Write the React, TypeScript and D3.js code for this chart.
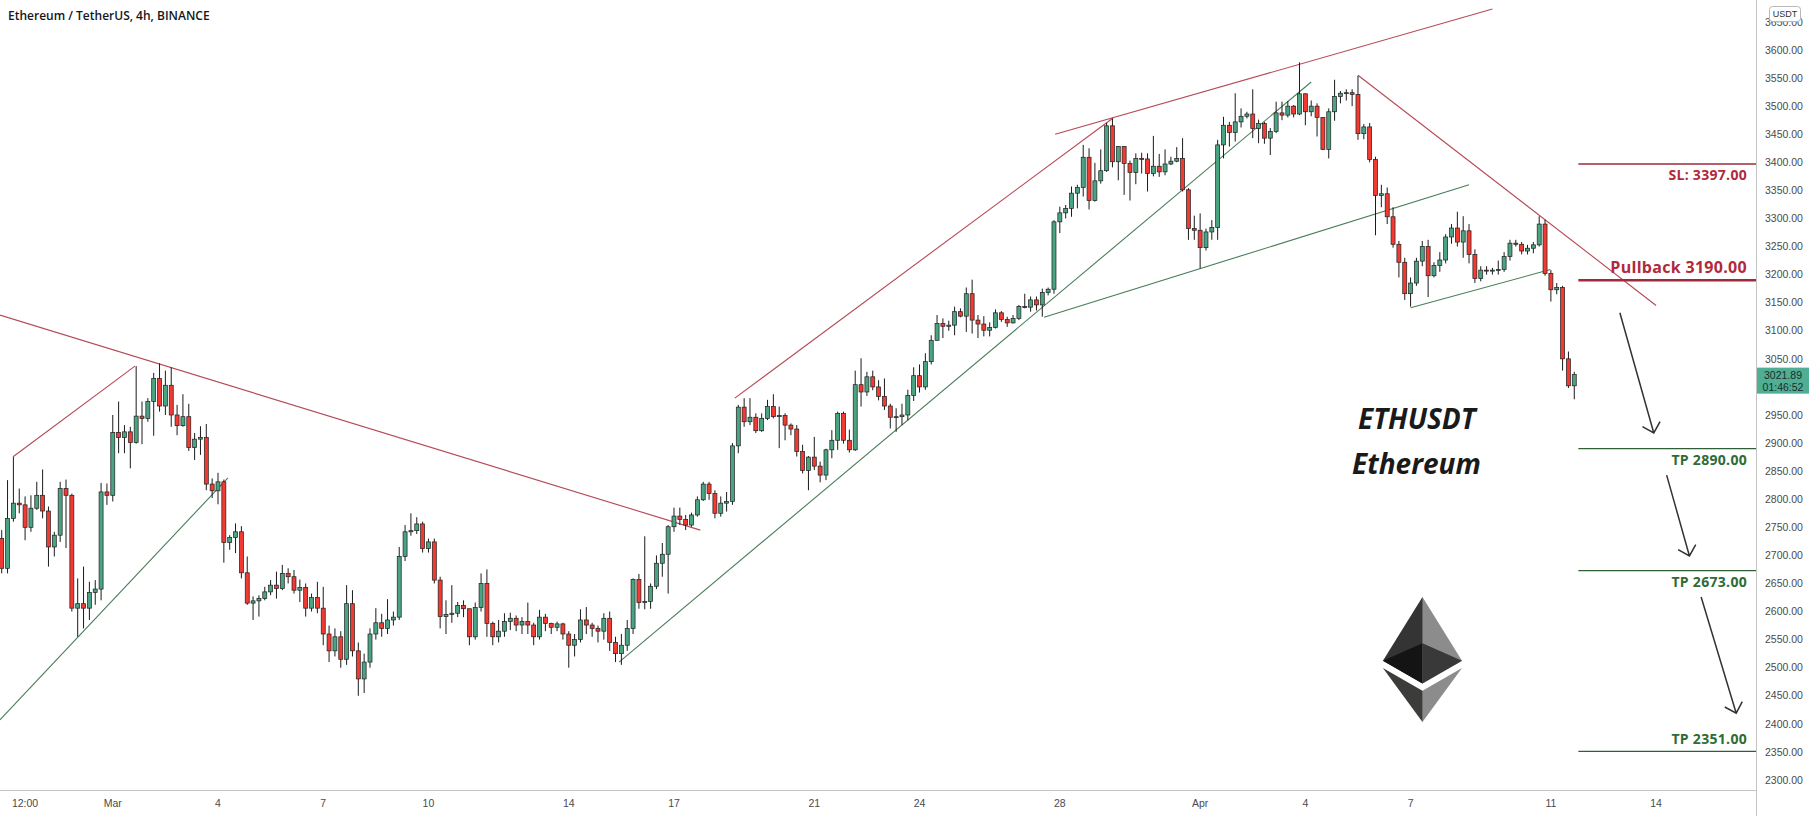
// ETHUSDT 4h candlestick chart with trend lines and trade levels, drawn with D3

import React, { useEffect, useRef } from 'react'
import * as d3 from 'd3'

const W = 1814
const H = 816
const PLOT_RIGHT = 1756
const PLOT_BOTTOM = 790

// first visible candle: 2022-02-25 20:00 UTC, 4h candles
const START = Date.UTC(2022, 1, 25, 20)
const STEP = 4 * 3600 * 1000

const firstOpen = 2730

const closes = [
  2677, 2766, 2793, 2790, 2750, 2784, 2807, 2779, 2715, 2736, 2819, 2807, 2606, 2614, 2606, 2634, 2640, 2813, 2807, 2919,
  2910, 2920, 2901, 2948, 2944, 2974, 3015, 2966, 3003, 2950, 2931, 2947, 2892, 2907, 2910, 2827, 2815, 2831, 2723, 2732,
  2742, 2669, 2615, 2619, 2623, 2635, 2647, 2641, 2668, 2662, 2638, 2643, 2606, 2625, 2606, 2560, 2530, 2555, 2515, 2614,
  2530, 2480, 2510, 2560, 2580, 2570, 2585, 2590, 2698, 2742, 2744, 2756, 2712, 2724, 2656, 2591, 2595, 2597, 2611, 2605,
  2555, 2607, 2650, 2579, 2555, 2565, 2582, 2588, 2576, 2582, 2576, 2555, 2590, 2579, 2572, 2578, 2560, 2540, 2550, 2585,
  2576, 2570, 2565, 2588, 2545, 2525, 2540, 2570, 2657, 2616, 2618, 2645, 2686, 2702, 2751, 2770, 2764, 2754, 2772, 2799,
  2827, 2810, 2775, 2793, 2796, 2895, 2964, 2938, 2946, 2922, 2944, 2965, 2947, 2949, 2932, 2925, 2885, 2851, 2875, 2859,
  2843, 2888, 2905, 2953, 2905, 2888, 3004, 2991, 3018, 3000, 2983, 2966, 2946, 2947, 2950, 2985, 3020, 3000, 3045, 3083,
  3113, 3108, 3110, 3134, 3126, 3166, 3119, 3112, 3101, 3106, 3132, 3120, 3114, 3122, 3143, 3142, 3155, 3146, 3168, 3174,
  3294, 3310, 3318, 3345, 3355, 3409, 3332, 3367, 3385, 3465, 3401, 3428, 3398, 3382, 3407, 3406, 3380, 3393, 3383, 3397,
  3402, 3407, 3351, 3282, 3279, 3248, 3276, 3284, 3431, 3466, 3453, 3472, 3482, 3486, 3460, 3469, 3443, 3455, 3488, 3484,
  3500, 3486, 3522, 3490, 3500, 3480, 3423, 3490, 3517, 3523, 3524, 3521, 3451, 3463, 3405, 3341, 3344, 3303, 3254, 3222,
  3166, 3185, 3224, 3250, 3198, 3216, 3226, 3267, 3283, 3258, 3278, 3236, 3193, 3208, 3207, 3208, 3209, 3232, 3256, 3254,
  3242, 3247, 3253, 3290, 3202, 3173, 3177, 3050, 3002, 3022,
]

const highs = [
  2745, 2834, 2876, 2819, 2805, 2807, 2831, 2853, 2787, 2742, 2831, 2835, 2810, 2659, 2680, 2653, 2656, 2829, 2828, 2950,
  2974, 2932, 2929, 3037, 2974, 2980, 3025, 3042, 3029, 3035, 2968, 2987, 2970, 2918, 2930, 2934, 2837, 2847, 2835, 2736,
  2757, 2752, 2698, 2627, 2629, 2644, 2656, 2671, 2683, 2677, 2674, 2657, 2650, 2632, 2653, 2644, 2575, 2570, 2565, 2647,
  2638, 2545, 2525, 2570, 2606, 2596, 2622, 2600, 2715, 2754, 2775, 2768, 2760, 2730, 2730, 2662, 2620, 2647, 2617, 2620,
  2605, 2616, 2668, 2675, 2582, 2585, 2597, 2598, 2593, 2590, 2616, 2580, 2603, 2596, 2580, 2582, 2580, 2565, 2560, 2604,
  2608, 2580, 2575, 2597, 2600, 2555, 2560, 2585, 2659, 2667, 2734, 2650, 2700, 2722, 2754, 2785, 2785, 2772, 2776, 2805,
  2831, 2831, 2816, 2805, 2813, 2900, 2968, 2980, 2980, 2953, 2953, 2977, 2987, 2965, 2953, 2935, 2932, 2897, 2877, 2911,
  2867, 2890, 2923, 2956, 2956, 2924, 3029, 3051, 3027, 3029, 3012, 3015, 2970, 2962, 2970, 2995, 3035, 3040, 3060, 3092,
  3128, 3122, 3118, 3143, 3140, 3177, 3191, 3128, 3126, 3115, 3138, 3135, 3125, 3128, 3146, 3166, 3161, 3161, 3175, 3177,
  3297, 3321, 3324, 3357, 3360, 3431, 3425, 3399, 3423, 3470, 3478, 3429, 3429, 3403, 3416, 3417, 3416, 3447, 3415, 3423,
  3410, 3427, 3443, 3354, 3305, 3309, 3282, 3297, 3440, 3481, 3472, 3523, 3496, 3490, 3530, 3476, 3472, 3461, 3508, 3508,
  3509, 3502, 3578, 3523, 3510, 3505, 3480, 3496, 3547, 3527, 3530, 3530, 3554, 3468, 3470, 3410, 3360, 3355, 3320, 3260,
  3230, 3195, 3230, 3260, 3262, 3222, 3240, 3272, 3290, 3312, 3304, 3290, 3245, 3215, 3215, 3212, 3225, 3240, 3262, 3262,
  3258, 3253, 3258, 3304, 3298, 3208, 3185, 3180, 3063, 3027,
]

const lows = [
  2668, 2668, 2760, 2775, 2727, 2742, 2781, 2766, 2680, 2698, 2724, 2713, 2600, 2555, 2570, 2585, 2612, 2620, 2790, 2796,
  2882, 2882, 2855, 2899, 2898, 2938, 2913, 2956, 2950, 2929, 2914, 2929, 2886, 2870, 2879, 2816, 2802, 2791, 2687, 2710,
  2704, 2659, 2612, 2585, 2591, 2620, 2629, 2623, 2638, 2650, 2632, 2617, 2591, 2600, 2597, 2540, 2510, 2520, 2500, 2505,
  2520, 2450, 2455, 2500, 2550, 2555, 2560, 2575, 2585, 2690, 2735, 2738, 2705, 2705, 2650, 2570, 2560, 2580, 2590, 2590,
  2540, 2550, 2600, 2555, 2540, 2545, 2555, 2567, 2565, 2560, 2560, 2540, 2550, 2565, 2560, 2565, 2550, 2500, 2520, 2545,
  2560, 2555, 2545, 2550, 2530, 2510, 2505, 2530, 2560, 2605, 2604, 2605, 2640, 2662, 2632, 2742, 2754, 2745, 2751, 2769,
  2797, 2799, 2766, 2769, 2778, 2790, 2882, 2929, 2932, 2918, 2920, 2941, 2944, 2891, 2905, 2914, 2876, 2846, 2816, 2852,
  2830, 2834, 2873, 2888, 2899, 2883, 2886, 2965, 2984, 2994, 2976, 2959, 2926, 2920, 2932, 2940, 2975, 2990, 2995, 3040,
  3083, 3087, 3100, 3092, 3124, 3098, 3095, 3087, 3090, 3090, 3104, 3116, 3107, 3113, 3119, 3140, 3134, 3136, 3125, 3163,
  3166, 3274, 3300, 3303, 3318, 3339, 3316, 3330, 3362, 3383, 3391, 3368, 3342, 3332, 3361, 3380, 3348, 3375, 3374, 3377,
  3395, 3400, 3348, 3262, 3262, 3211, 3243, 3262, 3262, 3407, 3428, 3437, 3462, 3478, 3443, 3434, 3433, 3413, 3452, 3475,
  3480, 3480, 3484, 3466, 3482, 3446, 3422, 3407, 3474, 3505, 3510, 3500, 3440, 3441, 3400, 3270, 3320, 3290, 3248, 3195,
  3155, 3143, 3180, 3215, 3160, 3195, 3205, 3220, 3255, 3250, 3230, 3220, 3185, 3188, 3200, 3200, 3200, 3205, 3225, 3250,
  3236, 3236, 3238, 3250, 3198, 3152, 3165, 3029, 2998, 2978,
]

const lastPrice = 3021.89
const countdown = '01:46:52'

const priceTicks = [
  2300, 2350, 2400, 2450, 2500, 2550, 2600, 2650, 2700, 2750, 2800, 2850, 2900, 2950, 3000, 3050, 3100, 3150, 3200, 3250,
  3300, 3350, 3400, 3450, 3500, 3550, 3600, 3650,
]

const dateTicks = [
  { t: '2022-02-26T12:00:00Z', label: '12:00' },
  { t: '2022-03-01T00:00:00Z', label: 'Mar' },
  { t: '2022-03-04T00:00:00Z', label: '4' },
  { t: '2022-03-07T00:00:00Z', label: '7' },
  { t: '2022-03-10T00:00:00Z', label: '10' },
  { t: '2022-03-14T00:00:00Z', label: '14' },
  { t: '2022-03-17T00:00:00Z', label: '17' },
  { t: '2022-03-21T00:00:00Z', label: '21' },
  { t: '2022-03-24T00:00:00Z', label: '24' },
  { t: '2022-03-28T00:00:00Z', label: '28' },
  { t: '2022-04-01T00:00:00Z', label: 'Apr' },
  { t: '2022-04-04T00:00:00Z', label: '4' },
  { t: '2022-04-07T00:00:00Z', label: '7' },
  { t: '2022-04-11T00:00:00Z', label: '11' },
  { t: '2022-04-14T00:00:00Z', label: '14' },
]

// trend lines: [candle index, price] -> [candle index, price]
const trendLines = [
  { a: [2, 2876], b: [22.8, 3037], kind: 'red' },
  { a: [-0.3, 2407], b: [38.7, 2838], kind: 'green' },
  { a: [-0.3, 3128], b: [119.5, 2745], kind: 'red' },
  { a: [105.6, 2510], b: [224, 3543], kind: 'green' },
  { a: [125.4, 2980], b: [190.1, 3479], kind: 'red' },
  { a: [180.2, 3450], b: [255, 3673], kind: 'red' },
  { a: [178.3, 3124], b: [251, 3360], kind: 'green' },
  { a: [232, 3555], b: [283, 3145], kind: 'red' },
  { a: [241, 3141], b: [264.9, 3209], kind: 'green' },
]

// projected move arrows
const arrows = [
  [276.8, 3132, 282.6, 2918],
  [284.8, 2843, 288.7, 2699],
  [290.7, 2626, 296.7, 2419],
]

const levels = [
  { price: 3397, label: 'SL: 3397.00', kind: 'stop', above: false, size: 14, width: 1.5 },
  { price: 3190, label: 'Pullback 3190.00', kind: 'stop', above: true, size: 16, width: 2.5 },
  { price: 2890, label: 'TP 2890.00', kind: 'tp', above: false, size: 14, width: 1.2 },
  { price: 2673, label: 'TP 2673.00', kind: 'tp', above: false, size: 14, width: 1.2 },
  { price: 2351, label: 'TP 2351.00', kind: 'tp', above: true, size: 14, width: 1.2 },
]
const levelStart = 269.7

const UP = '#4aa482'
const DOWN = '#f23a33'
const LINE_RED = '#b54a55'
const LINE_GREEN = '#4a7d58'

const atIndex = (k: number) => new Date(START + k * STEP)

const draw = (el: SVGSVGElement) => {
  const svg = d3.select(el)
  svg.selectAll('*').remove()

  const x = d3
    .scaleUtc()
    .domain([atIndex(0), atIndex(300)])
    .range([1.7, 1.7 + 300 * 5.846])
  const y = d3.scaleLinear().domain([3600, 2300]).range([50, 780])

  svg.append('rect').attr('width', W).attr('height', H).attr('fill', '#ffffff')

  const plot = svg.append('g')

  // Trend lines
  plot
    .selectAll('line.trend')
    .data(trendLines)
    .join('line')
    .attr('class', 'trend')
    .attr('x1', d => x(atIndex(d.a[0])))
    .attr('y1', d => y(d.a[1]))
    .attr('x2', d => x(atIndex(d.b[0])))
    .attr('y2', d => y(d.b[1]))
    .attr('stroke', d => (d.kind === 'red' ? LINE_RED : LINE_GREEN))
    .attr('stroke-width', 1.1)

  // Candles
  const candles = closes.map((c, i) => {
    const o = i === 0 ? firstOpen : closes[i - 1]
    return { t: atIndex(i), o, c, h: Math.max(highs[i], o, c), l: Math.min(lows[i], o, c) }
  })

  const cg = plot.selectAll('g.candle').data(candles).join('g').attr('class', 'candle')
  cg.append('line')
    .attr('x1', d => x(d.t))
    .attr('x2', d => x(d.t))
    .attr('y1', d => y(d.h))
    .attr('y2', d => y(d.l))
    .attr('stroke', '#1b1b1b')
    .attr('stroke-width', 1)
  cg.append('rect')
    .attr('x', d => x(d.t) - 2)
    .attr('width', 4)
    .attr('y', d => y(Math.max(d.o, d.c)))
    .attr('height', d => Math.max(1, Math.abs(y(d.o) - y(d.c))))
    .attr('fill', d => (d.c >= d.o ? UP : DOWN))
    .attr('stroke', '#1e1e1e')
    .attr('stroke-width', 0.7)

  // Levels
  const lg = plot.selectAll('g.level').data(levels).join('g').attr('class', 'level')
  lg.append('line')
    .attr('x1', x(atIndex(levelStart)))
    .attr('x2', PLOT_RIGHT)
    .attr('y1', d => y(d.price))
    .attr('y2', d => y(d.price))
    .attr('stroke', d => (d.kind === 'stop' ? '#a02a3b' : '#2f5f36'))
    .attr('stroke-width', d => d.width)
  lg.append('text')
    .attr('x', 1747)
    .attr('y', d => y(d.price) + (d.above ? -7 : 16.5))
    .attr('text-anchor', 'end')
    .attr('font-family', "'Open Sans', sans-serif")
    .attr('font-weight', 700)
    .attr('font-size', d => d.size)
    .attr('letter-spacing', 0.3)
    .attr('fill', d => (d.kind === 'stop' ? '#b02a3c' : '#2e6b35'))
    .text(d => d.label)

  // Arrows
  arrows.forEach(([k1, p1, k2, p2]) => {
    const x1 = x(atIndex(k1))
    const y1 = y(p1)
    const x2 = x(atIndex(k2))
    const y2 = y(p2)
    const ang = Math.atan2(y2 - y1, x2 - x1)
    const head = 13
    const spread = 0.78
    const path = d3.path()
    path.moveTo(x1, y1)
    path.lineTo(x2, y2)
    path.moveTo(x2 - head * Math.cos(ang - spread), y2 - head * Math.sin(ang - spread))
    path.lineTo(x2, y2)
    path.lineTo(x2 - head * Math.cos(ang + spread), y2 - head * Math.sin(ang + spread))
    plot
      .append('path')
      .attr('d', path.toString())
      .attr('fill', 'none')
      .attr('stroke', '#333333')
      .attr('stroke-width', 1.5)
  })

  // Annotation text
  plot
    .append('text')
    .attr('x', 1358)
    .attr('y', 429)
    .attr('font-family', "'Open Sans', sans-serif")
    .attr('font-weight', 700)
    .attr('font-style', 'italic')
    .attr('font-size', 28)
    .attr('fill', '#1a1a1a')
    .text('ETHUSDT')
  plot
    .append('text')
    .attr('x', 1352)
    .attr('y', 474)
    .attr('font-family', "'Open Sans', sans-serif")
    .attr('font-weight', 700)
    .attr('font-style', 'italic')
    .attr('font-size', 28)
    .attr('fill', '#1a1a1a')
    .text('Ethereum')

  // Ethereum logo (mirrored shading)
  const logo = plot.append('g').attr('transform', 'translate(1462,597) scale(-0.309,0.3)')
  const facets = [
    ['#343434', '127.96,0 125.17,9.5 125.17,285.17 127.96,287.96 255.92,212.32'],
    ['#8c8c8c', '127.96,0 0,212.32 127.96,287.96 127.96,154.16'],
    ['#3c3c3b', '127.96,312.19 126.39,314.11 126.39,412.31 127.96,416.91 256,236.59'],
    ['#8c8c8c', '127.96,416.91 127.96,312.19 0,236.59'],
    ['#141414', '127.96,287.96 255.92,212.32 127.96,154.16'],
    ['#393939', '0,212.32 127.96,287.96 127.96,154.16'],
  ]
  logo
    .selectAll('polygon')
    .data(facets)
    .join('polygon')
    .attr('points', d => d[1])
    .attr('fill', d => d[0])

  // Axes frame
  svg
    .append('line')
    .attr('x1', PLOT_RIGHT + 0.5)
    .attr('x2', PLOT_RIGHT + 0.5)
    .attr('y1', 0)
    .attr('y2', H)
    .attr('stroke', '#c4c4c4')
  svg
    .append('line')
    .attr('x1', 0)
    .attr('x2', PLOT_RIGHT)
    .attr('y1', PLOT_BOTTOM + 0.5)
    .attr('y2', PLOT_BOTTOM + 0.5)
    .attr('stroke', '#c4c4c4')

  // Price axis labels
  svg
    .append('g')
    .selectAll('text')
    .data(priceTicks)
    .join('text')
    .attr('x', 1765)
    .attr('y', d => y(d))
    .attr('dy', '0.35em')
    .attr('font-family', "'Liberation Sans', Arial, sans-serif")
    .attr('font-size', 10.5)
    .attr('fill', '#4a4a4a')
    .text(d => d.toFixed(2))

  // Date axis labels
  svg
    .append('g')
    .selectAll('text')
    .data(dateTicks)
    .join('text')
    .attr('x', d => x(new Date(d.t)))
    .attr('y', 803)
    .attr('dy', '0.35em')
    .attr('text-anchor', 'middle')
    .attr('font-family', "'Liberation Sans', Arial, sans-serif")
    .attr('font-size', 10.5)
    .attr('fill', '#4a4a4a')
    .text(d => d.label)

  // Last price tag
  const ly = y(lastPrice)
  svg
    .append('rect')
    .attr('x', PLOT_RIGHT + 1)
    .attr('y', ly - 7)
    .attr('width', 52)
    .attr('height', 26)
    .attr('fill', '#4fae93')
  svg
    .append('text')
    .attr('x', PLOT_RIGHT + 27)
    .attr('y', ly + 1)
    .attr('dy', '0.35em')
    .attr('text-anchor', 'middle')
    .attr('font-family', "'Liberation Sans', Arial, sans-serif")
    .attr('font-size', 10.5)
    .attr('fill', '#1d2d2a')
    .text(lastPrice.toFixed(2))
  svg
    .append('text')
    .attr('x', PLOT_RIGHT + 27)
    .attr('y', ly + 12.5)
    .attr('dy', '0.35em')
    .attr('text-anchor', 'middle')
    .attr('font-family', "'Liberation Sans', Arial, sans-serif")
    .attr('font-size', 10.5)
    .attr('fill', '#1d2d2a')
    .text(countdown)

  // Currency box
  svg
    .append('rect')
    .attr('x', 1769.5)
    .attr('y', 6.5)
    .attr('width', 31)
    .attr('height', 15)
    .attr('rx', 3)
    .attr('fill', '#ffffff')
    .attr('stroke', '#b8b8b8')
  svg
    .append('text')
    .attr('x', 1785)
    .attr('y', 14)
    .attr('dy', '0.35em')
    .attr('text-anchor', 'middle')
    .attr('font-family', "'Liberation Sans', Arial, sans-serif")
    .attr('font-size', 9)
    .attr('fill', '#333')
    .text('USDT')

  // Title
  svg
    .append('text')
    .attr('x', 8)
    .attr('y', 20)
    .attr('font-family', "'Open Sans', sans-serif")
    .attr('font-weight', 600)
    .attr('font-size', 12)
    .attr('fill', '#131722')
    .text('Ethereum / TetherUS, 4h, BINANCE')
}

export default function App() {
  const ref = useRef<SVGSVGElement>(null)
  useEffect(() => {
    if (ref.current) draw(ref.current)
  }, [])
  return (
    <svg
      ref={ref}
      width={W}
      height={H}
      style={{ position: 'absolute', left: 0, top: 0, display: 'block' }}
    />
  )
}
